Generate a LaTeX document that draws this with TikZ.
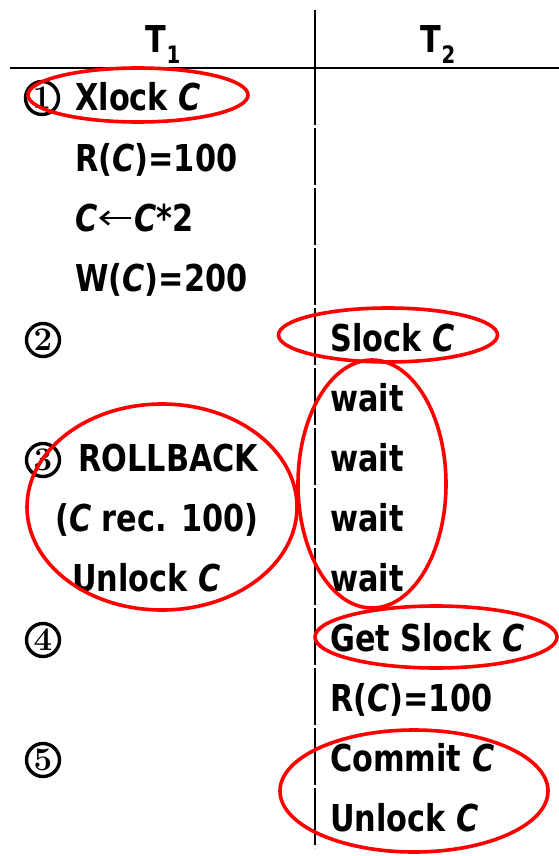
\documentclass[tikz,border=0pt]{standalone}
\usepackage{fontspec}
\newfontfamily\hand{DejaVu Sans}[FakeStretch=0.82]
\usetikzlibrary{shapes.geometric,arrows.meta}
\begin{document}
\begin{tikzpicture}[x=1pt,y=-1pt,
  txt/.style={anchor=base west,inner sep=0pt,font=\hand\bfseries\fontsize{37}{37}\selectfont},
  hdr/.style={anchor=base,inner sep=0pt,font=\hand\bfseries\fontsize{37}{37}\selectfont},
  num/.style={circle,draw,line width=3.4pt,minimum size=33pt,inner sep=0pt,
    font=\rmfamily\bfseries\fontsize{33}{33}\selectfont},
  rule/.style={line width=2.4pt,black},
  assign/.style={line width=2.6pt,-{Straight Barb[length=8pt,width=13pt]}},
  ring/.style={draw=red,line width=3.6pt,ellipse,inner sep=0pt}]
\useasboundingbox (0,0) rectangle (559,856);
% table rules
\coordinate (vt) at (315,10);
\coordinate (vm) at (315,68);
\coordinate (vb) at (315,848);
\coordinate (hl) at (10,68);
\coordinate (hr) at (559,68);
\draw[rule] (vt) -- (vm);
\draw[rule,dash pattern=on 57pt off 3pt] (vm) -- (vb);
\draw[rule] (hl) -- (hr);
% headers
\newcommand{\sub}[1]{\raisebox{-0.28em}{\fontsize{24}{24}\selectfont #1}}
\node[hdr] (h1) at (163,53) {T\sub{1}};
\node[hdr] (h2) at (438,53) {T\sub{2}};
% step numbers
\node[num] (n1) at (42,98) {1};
\node[num] (n2) at (43,340) {2};
\node[num] (n3) at (43,460) {3};
\node[num] (n4) at (43,640) {4};
\node[num] (n5) at (43,760) {5};
% T1 column
\node[txt] (a1) at (75,111) {Xlock \textit{C}};
\node[txt] (a2) at (75,171) {R(\textit{C})=100};
\node[txt] (a3) at (75,231) {\textit{C}};
\node[txt] (a3b) at (134,231) {\textit{C}*2};
\coordinate (arrS) at (131,218);
\coordinate (arrE) at (99,218);
\draw[assign] (arrS) -- (arrE);
\node[txt] (a4) at (75,291) {W(\textit{C})=200};
\node[txt] (a5) at (78,471) {ROLLBACK};
\node[txt] (a6) at (55,531) {(\textit{C} rec. 100)};
\node[txt] (a7) at (72,591) {Unlock \textit{C}};
% T2 column
\node[txt] (b1) at (330,351) {Slock \textit{C}};
\node[txt] (b2) at (330,411) {wait};
\node[txt] (b3) at (330,471) {wait};
\node[txt] (b4) at (330,531) {wait};
\node[txt] (b5) at (330,591) {wait};
\node[txt] (b6) at (330,651) {Get Slock \textit{C}};
\node[txt] (b7) at (330,711) {R(\textit{C})=100};
\node[txt] (b8) at (330,771) {Commit \textit{C}};
\node[txt] (b9) at (330,831) {Unlock \textit{C}};
% highlight rings
\node[ring,minimum width=220pt,minimum height=54pt] (r1) at (138,95) {};
\node[ring,minimum width=219pt,minimum height=54pt] (r2) at (388,335) {};
\node[ring,minimum width=148pt,minimum height=248pt] (r3) at (372,484) {};
\node[ring,minimum width=270pt,minimum height=206pt] (r4) at (162,507) {};
\node[ring,minimum width=242pt,minimum height=62pt] (r5) at (436,637) {};
\node[ring,minimum width=268pt,minimum height=122pt] (r6) at (414,791) {};
\end{tikzpicture}
\end{document}
